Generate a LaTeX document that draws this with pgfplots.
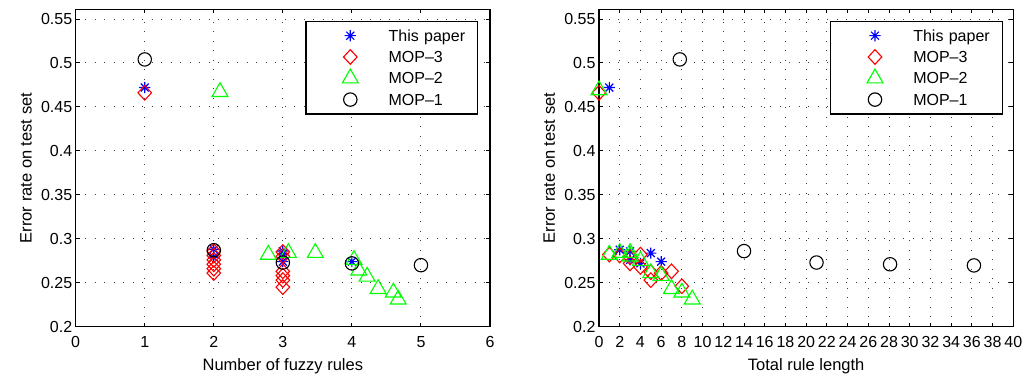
\documentclass[border=0pt]{standalone}
\usepackage{fontspec}
\setmainfont{Liberation Sans}
\usepackage{pgfplots}
\pgfplotsset{compat=1.18}

\pgfdeclareplotmark{mstar}{%
  \pgfpathmoveto{\pgfqpoint{-\pgfplotmarksize}{0pt}}\pgfpathlineto{\pgfqpoint{\pgfplotmarksize}{0pt}}%
  \pgfpathmoveto{\pgfqpoint{0pt}{-\pgfplotmarksize}}\pgfpathlineto{\pgfqpoint{0pt}{\pgfplotmarksize}}%
  \pgfpathmoveto{\pgfqpoint{-.707\pgfplotmarksize}{-.707\pgfplotmarksize}}\pgfpathlineto{\pgfqpoint{.707\pgfplotmarksize}{.707\pgfplotmarksize}}%
  \pgfpathmoveto{\pgfqpoint{-.707\pgfplotmarksize}{.707\pgfplotmarksize}}\pgfpathlineto{\pgfqpoint{.707\pgfplotmarksize}{-.707\pgfplotmarksize}}%
  \pgfusepathqstroke}
\pgfdeclareplotmark{mdiamond}{%
  \pgfpathmoveto{\pgfqpoint{0pt}{\pgfplotmarksize}}\pgfpathlineto{\pgfqpoint{.93\pgfplotmarksize}{0pt}}%
  \pgfpathlineto{\pgfqpoint{0pt}{-\pgfplotmarksize}}\pgfpathlineto{\pgfqpoint{-.93\pgfplotmarksize}{0pt}}%
  \pgfpathclose\pgfusepathqstroke}

\pgfplotsset{
  myaxis/.style={
    width=414.3pt, height=317.4pt, scale only axis,
    ymin=0.2, ymax=0.561,
    ytick={0.2,0.25,0.3,0.35,0.4,0.45,0.5,0.55},
    yticklabels={0.2,0.25,0.3,0.35,0.4,0.45,0.5,0.55},
    /pgf/number format/assume math mode=true,
    tick label style={font=\fontsize{16}{19}\selectfont},
    label style={font=\fontsize{16.5}{19}\selectfont},
    grid=major,
    major grid style={black!75, line width=0.9pt, dash pattern=on 1pt off 8.5pt},
    tick align=inside, major tick length=4pt,
    tick style={black, line width=0.9pt},
    axis line style={line width=1.3pt},
    ylabel={Error rate on test set},
    ylabel style={at={([xshift=-49.7pt]axis description cs:0,0.5)}, anchor=center},
    xlabel style={at={([yshift=-40pt]axis description cs:0.5,0)}, anchor=center},
    xticklabel style={yshift=-6pt},
    legend cell align=left,
    legend style={
      draw=black, line width=1.3pt, fill=white,
      inner xsep=0pt, inner ysep=3.65pt,
      /tikz/column sep=0pt, /tikz/row sep=0pt,
      font=\fontsize{16}{19}\selectfont,
      nodes={inner xsep=0pt, inner ysep=2.85pt, text height=13.5pt, text depth=2.1pt, text width=89pt, align=left},
    },
    legend image code/.code={%
      \path[draw=none] (0pt,0pt) -- (82.6pt,0pt);
      \draw[#1, line width=1.15pt] plot coordinates {(44.3pt,0pt)};
    },
  },
  sp/.style={only marks, blue, mark=mstar, mark size=5.6pt, line width=1.2pt},
  m3/.style={only marks, red, mark=mdiamond, mark size=7.3pt, line width=1.1pt},
  m2/.style={only marks, green, mark=triangle, mark size=9.2pt, line width=1.1pt},
  m1/.style={only marks, black, mark=o, mark size=6.7pt, line width=1.1pt},
}

\begin{document}
\begin{tikzpicture}
\useasboundingbox (-75.7pt,-51.3pt) rectangle (951.3pt,326.7pt);
\begin{axis}[myaxis, at={(0pt,0pt)}, anchor=south west,
  xmin=0, xmax=6, xtick={0,1,2,3,4,5,6},
  xlabel={Number of fuzzy rules},
  legend style={at={(axis description cs:0.9717,0.964)}, anchor=north east}]
\addplot[sp] coordinates {(1,0.472) (2,0.288) (2,0.279) (3,0.286) (3,0.283) (3,0.274) (4,0.274)};
\addplot[m3] coordinates {(1,0.466) (2,0.286) (2,0.281) (2,0.276) (2,0.271) (2,0.266) (2,0.261)
  (3,0.285) (3,0.280) (3,0.263) (3,0.258) (3,0.253) (3,0.245)};
\addplot[m2] coordinates {(2.09,0.467) (2.79,0.282) (3.08,0.284) (3.47,0.284) (4.03,0.276) (4.1,0.264)
  (4.22,0.257) (4.38,0.243) (4.6,0.239) (4.67,0.231)};
\addplot[m1] coordinates {(1,0.504) (2,0.287) (3,0.273) (4,0.272) (5,0.270)};
\legend{This paper, MOP--3, MOP--2, MOP--1}
\end{axis}
\begin{axis}[myaxis, at={(523.3pt,0pt)}, anchor=south west,
  xmin=0, xmax=40, xtick={0,2,...,40},
  xlabel={Total rule length},
  legend style={at={(axis description cs:0.975,0.964)}, anchor=north east}]
\addplot[sp] coordinates {(1,0.472) (2,0.2875) (3,0.2856) (3,0.276) (4,0.272) (5,0.2837) (6,0.274)};
\addplot[m3] coordinates {(0,0.466) (1,0.282) (2,0.281) (3,0.272) (3,0.279) (4,0.282) (4,0.268)
  (5,0.262) (5,0.253) (6,0.261) (7,0.263) (8,0.246)};
\addplot[m2] coordinates {(0,0.469) (1,0.282) (2,0.284) (3,0.284) (3,0.280) (4,0.275) (5,0.261) (6,0.258)
  (7,0.243) (8,0.239) (9,0.231)};
\addplot[m1] coordinates {(7.8,0.504) (14,0.286) (21,0.273) (28.1,0.271) (36.2,0.2697)};
\legend{This paper, MOP--3, MOP--2, MOP--1}
\end{axis}
\end{tikzpicture}
\end{document}
